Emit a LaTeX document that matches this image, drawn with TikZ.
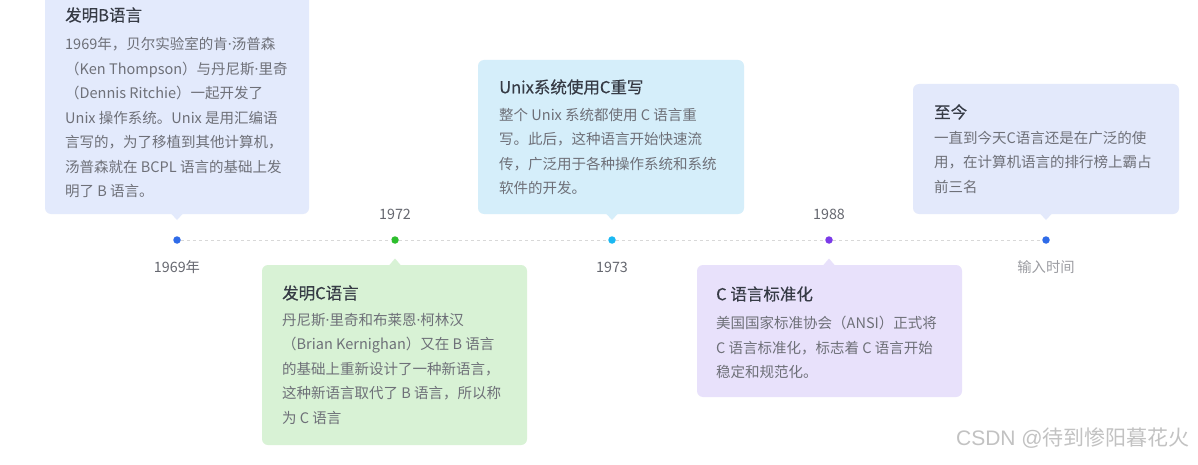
\documentclass[tikz,border=0pt]{standalone}
\usepackage{fontspec}
\setmainfont{Noto Sans CJK SC}
\newfontfamily\latinf{Noto Sans}
\newfontfamily\wmlatin{Liberation Sans}
\newfontfamily\ttlfont{Noto Sans CJK SC}[FakeBold=0.3]
\newcommand\md{{\latinf ·}}
\definecolor{boxB}{HTML}{E3EAFC}
\definecolor{boxC}{HTML}{D8F2D5}
\definecolor{boxU}{HTML}{D5EEFA}
\definecolor{boxS}{HTML}{E8E1FB}
\definecolor{boxN}{HTML}{E3E9FB}
\definecolor{dotBlue}{HTML}{2F6BE8}
\definecolor{dotGreen}{HTML}{2DBE2D}
\definecolor{dotCyan}{HTML}{1AB8F2}
\definecolor{dotPurple}{HTML}{7B3AE8}
\definecolor{titleCol}{HTML}{363B45}
\definecolor{bodyCol}{HTML}{6E7078}
\definecolor{yearCol}{HTML}{666870}
\definecolor{lineCol}{HTML}{D8D8D8}
\begin{document}
\begin{tikzpicture}[x=1pt,y=-1pt,
  card/.style={rectangle,rounded corners=6pt,inner sep=0pt,draw=none},
  ttl/.style={anchor=west,inner sep=0pt,text=titleCol,font=\ttlfont\fontsize{16.5pt}{20pt}\selectfont},
  body/.style={anchor=north west,inner sep=0pt,align=left,text=bodyCol,font=\fontsize{14.5pt}{24.5pt}\selectfont},
  dot/.style={circle,inner sep=0pt,minimum size=7.5pt,draw=none},
  year/.style={inner sep=0pt,text=yearCol,font=\fontsize{14.3pt}{16pt}\selectfont},
  tline/.style={draw=lineCol,dashed,line width=0.8pt},
  ]
\useasboundingbox (0,0) rectangle (1198,465);
\fill[white] (0,0) rectangle (1198,465);

% cards
\node[card,fill=boxB,minimum width=264pt,minimum height=227pt] (cB) at (177,100.5) {};
\node[card,fill=boxC,minimum width=265pt,minimum height=180pt] (cC) at (394.5,355) {};
\node[card,fill=boxU,minimum width=266pt,minimum height=154pt] (cU) at (611,137) {};
\node[card,fill=boxS,minimum width=265pt,minimum height=132pt] (cS) at (829.5,331) {};
\node[card,fill=boxN,minimum width=266pt,minimum height=130pt] (cN) at (1046,149) {};

% pointers
\fill[boxB] (171,213.5) -- (177,220) -- (183,213.5) -- cycle;
\fill[boxC] (389,265.5) -- (395,258.5) -- (401,265.5) -- cycle;
\fill[boxU] (606,213.5) -- (612,220) -- (618,213.5) -- cycle;
\fill[boxS] (823,265.5) -- (829,258.5) -- (835,265.5) -- cycle;
\fill[boxN] (1040,213.5) -- (1046,220) -- (1052,213.5) -- cycle;

% timeline dots
\node[dot,fill=dotBlue] (d1) at (177,240) {};
\node[dot,fill=dotGreen] (d2) at (395,240) {};
\node[dot,fill=dotCyan] (d3) at (612,240) {};
\node[dot,fill=dotPurple] (d4) at (829,240) {};
\node[dot,fill=dotBlue] (d5) at (1046,240) {};
\draw[tline] (d1) -- (d2);
\draw[tline] (d2) -- (d3);
\draw[tline] (d3) -- (d4);
\draw[tline] (d4) -- (d5);

% year labels
\node[year] (y1) at (177,267) {1969年};
\node[year] (y2) at (395,214) {1972};
\node[year] (y3) at (612,267) {1973};
\node[year] (y4) at (829,214) {1988};
\node[year,text=yearCol!65] (y5) at (1046,267) {输入时间};

% card texts
\node[ttl] (tB) at (65,15) {发明B语言};
\node[body] (bB) at (65,37) {1969年，贝尔实验室的肯\md 汤普森\\（Ken Thompson）与丹尼斯\md 里奇\\（Dennis Ritchie）一起开发了\\Unix 操作系统。Unix 是用汇编语\\言写的，为了移植到其他计算机，\\汤普森就在 BCPL 语言的基础上发\\明了 B 语言。};

\node[ttl] (tC) at (282,293) {发明C语言};
\node[body] (bC) at (282,313) {丹尼斯\md 里奇和布莱恩\md 柯林汉\\（Brian Kernighan）又在 B 语言\\的基础上重新设计了一种新语言，\\这种新语言取代了 B 语言，所以称\\为 C 语言};

\node[ttl] (tU) at (499,87) {Unix系统使用C重写};
\node[body] (bU) at (499,108) {整个 Unix 系统都使用 C 语言重\\写。此后，这种语言开始快速流\\传，广泛用于各种操作系统和系统\\软件的开发。};

\node[ttl] (tS) at (716,294) {C 语言标准化};
\node[body] (bS) at (716,316) {美国国家标准协会（ANSI）正式将\\C 语言标准化，标志着 C 语言开始\\稳定和规范化。};

\node[ttl] (tN) at (934,112) {至今};
\node[body] (bN) at (934,131) {一直到今天C语言还是在广泛的使\\用，在计算机语言的排行榜上霸占\\前三名};

% watermark
\node[anchor=east,inner sep=0pt,text=black!24,font=\fontsize{21pt}{23pt}\selectfont] (wm) at (1190,438) {{\wmlatin CSDN @}待到惨阳暮花火};
\end{tikzpicture}
\end{document}
